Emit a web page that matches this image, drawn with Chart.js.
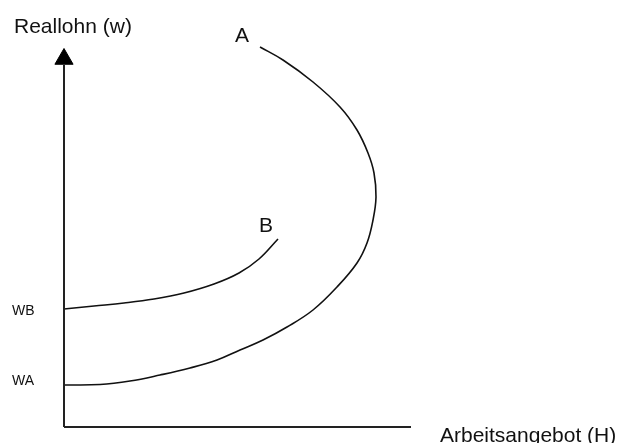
<!DOCTYPE html>
<html>
<head>
<meta charset="utf-8">
<script src="https://cdn.jsdelivr.net/npm/chart.js@4"></script>
<style>
  html, body { margin: 0; padding: 0; background: #fff; }
  #wrap { width: 624px; height: 443px; position: relative; }
</style>
</head>
<body>
<div id="wrap"><canvas id="supplyChart"></canvas></div>
<script>
// Arbeitsangebot (H) / Reallohn (w), schematic units
const curveAH = [0, 36, 66, 96, 126, 153, 176, 199, 223, 249, 273, 293, 303, 309, 312, 310, 304, 293, 276, 249, 219, 196];
const curveAW = [42, 42.5, 46, 52, 59, 67, 77, 87, 100, 117, 140, 164, 184, 207, 230, 254, 274, 297, 320, 345, 367, 380];
const curveBH = [0, 30, 60, 90, 120, 150, 175, 195, 214];
const curveBW = [118, 121, 124, 128, 134, 143, 154, 168, 188];

const axisH = [0, 347];
const axisW = [0, 362];

const labels = [
  { text: "Reallohn (w)", h: -50, w: 400, size: 21 },
  { text: "A", h: 171, w: 391, size: 21 },
  { text: "B", h: 195, w: 201, size: 21 },
  { text: "WB", h: -52, w: 116, size: 14 },
  { text: "WA", h: -52, w: 46, size: 14 },
  { text: "Arbeitsangebot (H)", h: 376, w: -9, size: 21 }
];

const toPoints = (xs, ys) => xs.map((x, i) => ({ x, y: ys[i] }));

const textPlugin = {
  id: "textLabels",
  afterDatasetsDraw(chart) {
    const ctx = chart.ctx;
    const xs = chart.scales.x;
    const ys = chart.scales.y;
    ctx.save();
    ctx.fillStyle = "#111";
    ctx.textAlign = "left";
    ctx.textBaseline = "middle";
    labels.forEach(l => {
      ctx.font = l.size + "px 'Liberation Sans', Arial, sans-serif";
      ctx.fillText(l.text, xs.getPixelForValue(l.h), ys.getPixelForValue(l.w));
    });
    ctx.restore();
  }
};

const lineStyle = {
  showLine: true,
  pointRadius: 0,
  borderColor: "#111",
  borderWidth: 1.6,
  fill: false,
  clip: false
};

new Chart(document.getElementById("supplyChart"), {
  type: "scatter",
  data: {
    datasets: [
      { ...lineStyle, label: "H-Achse", data: toPoints(axisH, [0, 0]), borderColor: "#222", borderWidth: 2, tension: 0 },
      { ...lineStyle, label: "w-Achse", data: toPoints([0, 0], axisW), borderColor: "#222", borderWidth: 2, tension: 0 },
      {
        label: "Pfeil",
        data: [{ x: 0, y: 368 }],
        pointStyle: "triangle",
        pointRadius: 10.5,
        backgroundColor: "#000",
        borderColor: "#000",
        borderWidth: 1,
        clip: false
      },
      { ...lineStyle, label: "A", data: toPoints(curveAH, curveAW), tension: 0.4 },
      { ...lineStyle, label: "B", data: toPoints(curveBH, curveBW), tension: 0.4 }
    ]
  },
  options: {
    responsive: true,
    maintainAspectRatio: false,
    animation: false,
    layout: { autoPadding: false, padding: { left: 64, right: 0, top: 0, bottom: 16 } },
    scales: {
      x: { type: "linear", display: false, min: 0, max: 560 },
      y: { type: "linear", display: false, min: 0, max: 427 }
    },
    plugins: {
      legend: { display: false },
      tooltip: { enabled: false }
    }
  },
  plugins: [textPlugin]
});
</script>
</body>
</html>
